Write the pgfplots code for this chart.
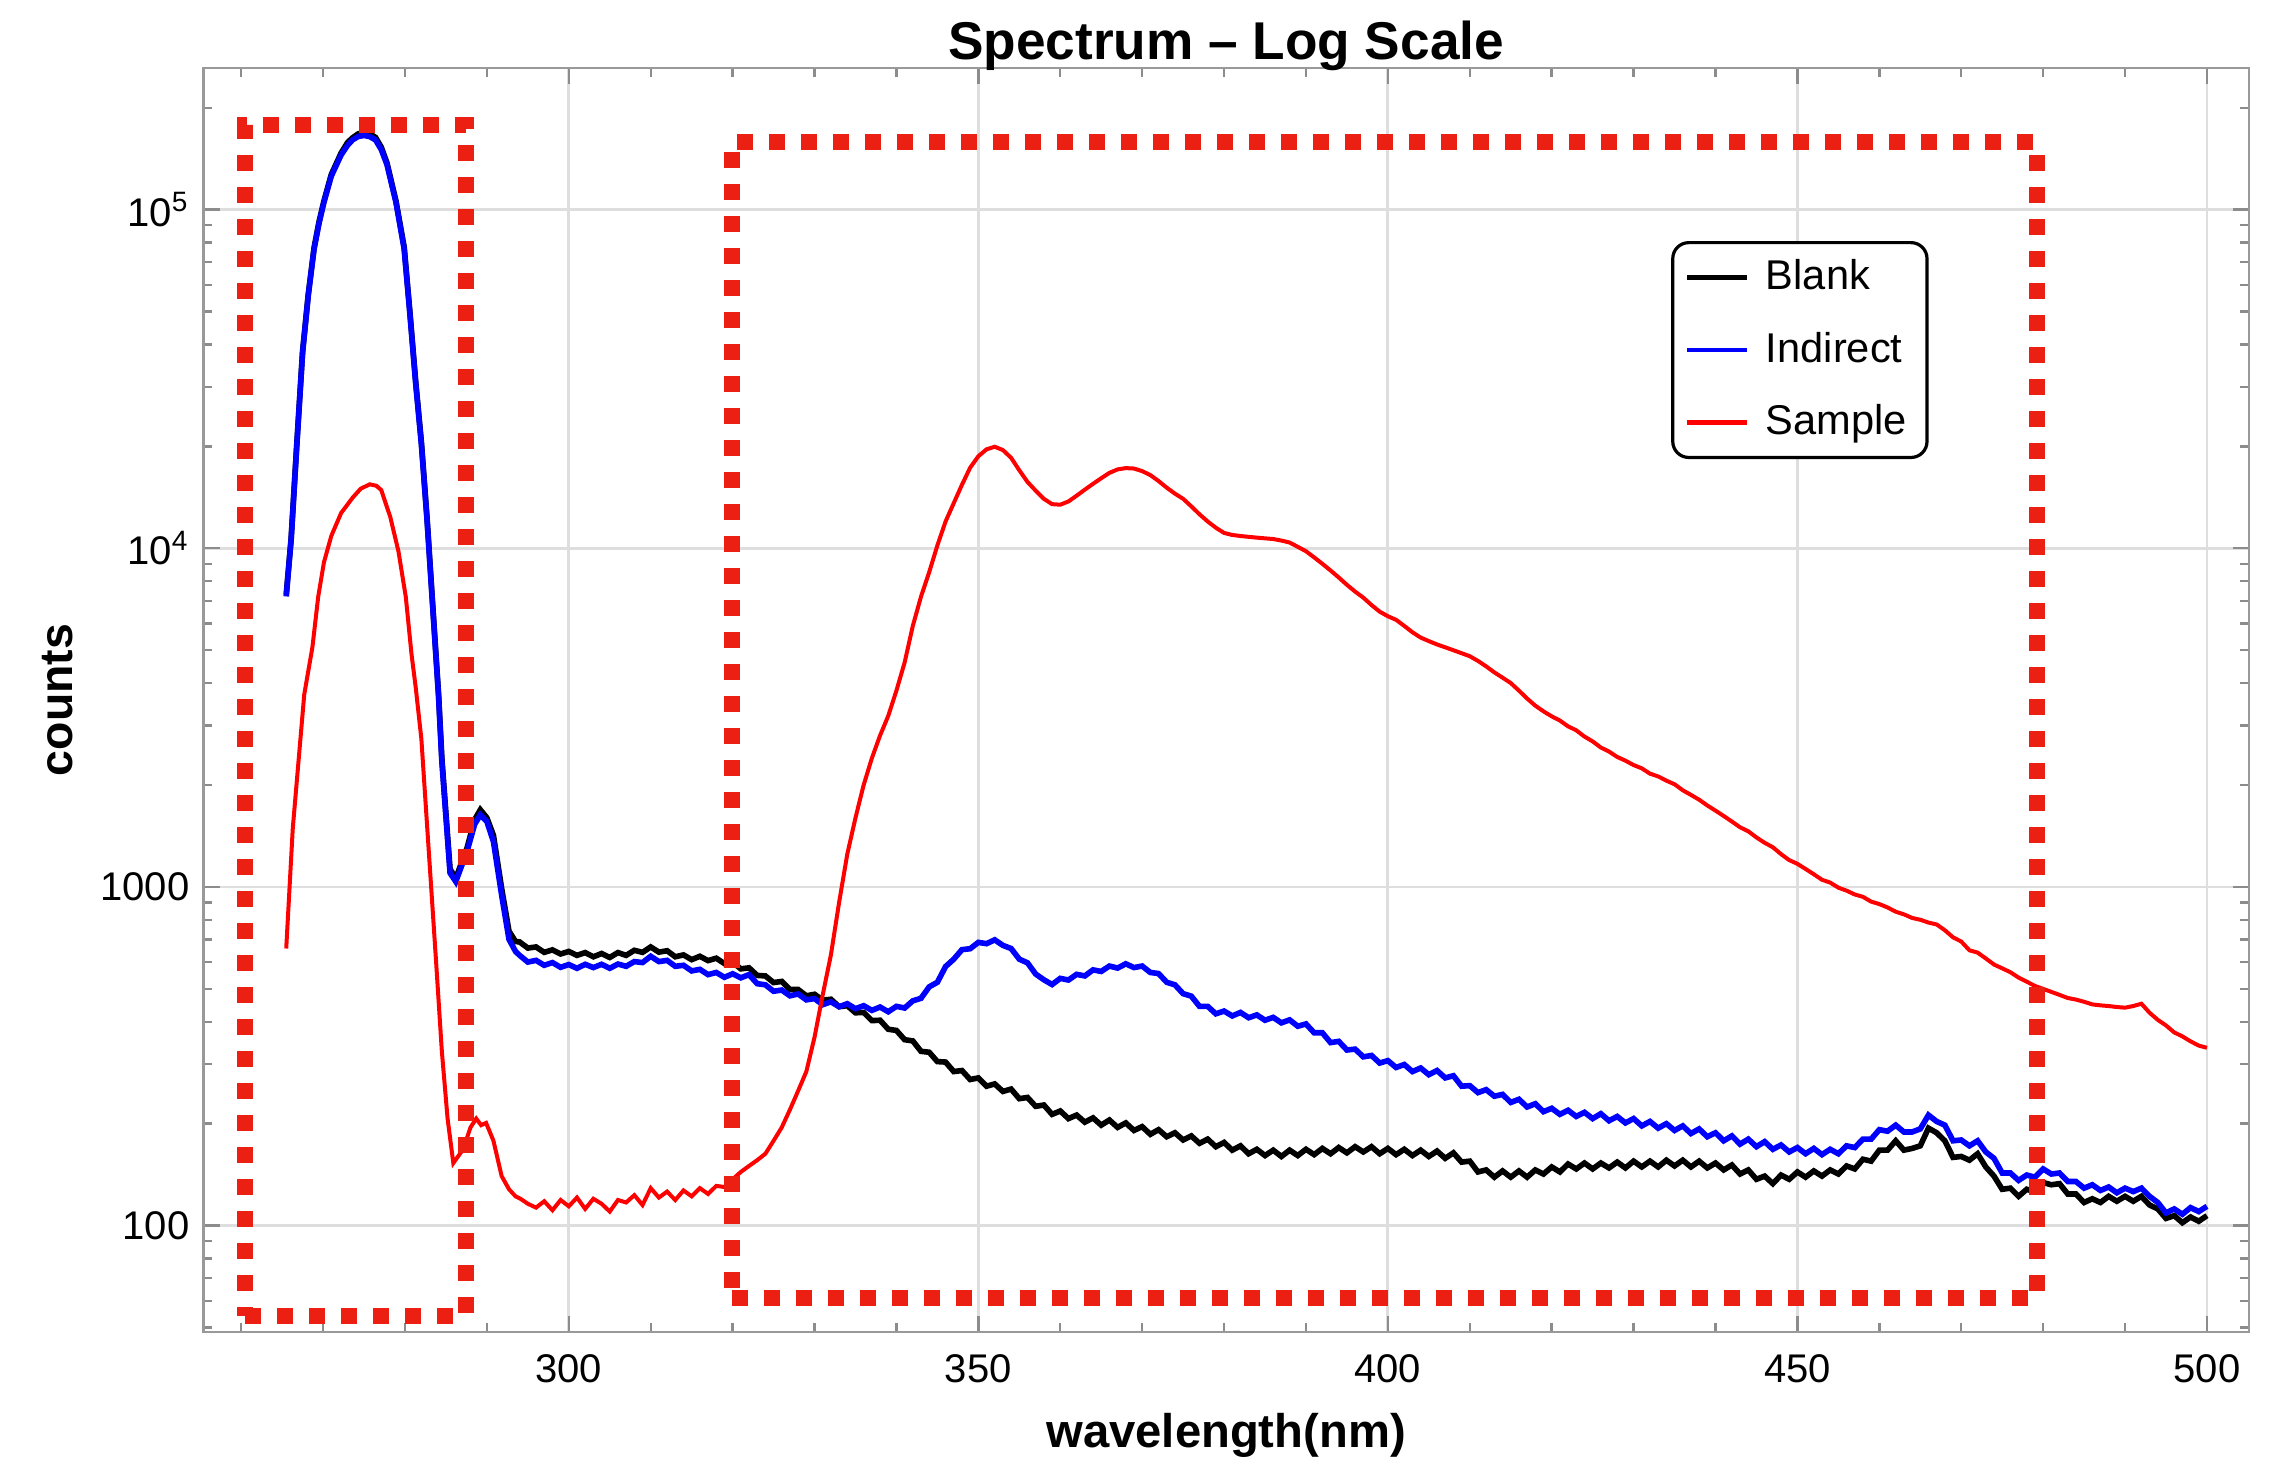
\documentclass[border=0pt]{standalone}
\usepackage{fontspec}
\setmainfont{Liberation Sans}
\usepackage{pgfplots}
\pgfplotsset{compat=1.18}
\definecolor{boxred}{RGB}{236,32,18}
\begin{document}
\begin{tikzpicture}
\useasboundingbox (-50.875pt,-32.25pt) rectangle (521.375pt,333pt);
\begin{axis}[
  at={(0,0)}, anchor=south west,
  scale only axis, width=511.3pt, height=316pt,
  xmin=255.4, xmax=505.1,
  ymode=log, ymin=48.5, ymax=262000,
  /pgf/number format/assume math mode=true,
  axis line style={draw=black!40, line width=0.6pt},
  tick style={draw=black!45, line width=0.6pt},
  major tick length=4pt, minor tick length=2.2pt,
  tick align=inside,
  xtick={300,350,400,450,500},
  minor xtick={260,270,280,290,300,310,320,330,340,350,360,370,380,390,400,410,420,430,440,450,460,470,480,490,500},
  ytick={100,1000,10000,100000},
  yticklabels={100,1000,10\textsuperscript{4},10\textsuperscript{5}},
  minor ytick={50,60,70,80,90,200,300,400,500,600,700,800,900,2000,3000,4000,5000,6000,7000,8000,9000,20000,30000,40000,50000,60000,70000,80000,90000,200000},
  grid=major,
  major grid style={draw=black!13, line width=0.7pt},
  ticklabel style={font=\fontsize{10}{12}\selectfont, text=black},
  xticklabel style={yshift=-2pt},
  every axis title shift=0pt,
  title={Spectrum – Log Scale},
  title style={font=\bfseries\fontsize{13.3}{15}\selectfont, at={(axis description cs:0.5,1.0173)}, anchor=center, yshift=0pt},
  xlabel={wavelength(nm)},
  xlabel style={font=\bfseries\fontsize{11.8}{14}\selectfont, at={(axis description cs:0.5,-0.0815)}, anchor=center},
  ylabel={counts},
  ylabel style={font=\bfseries\fontsize{11.6}{14}\selectfont, at={(axis description cs:-0.0712,0.5)}, anchor=center, rotate=0},
  legend style={at={(0.7176,0.8631)}, anchor=north west, draw=black, line width=0.8pt,
    rounded corners=4pt, font=\fontsize{10.4}{12}\selectfont, row sep=5.1pt,
    inner xsep=3pt, inner ysep=2.2pt, cells={anchor=west}},
  legend cell align=left,
  legend image code/.code={\draw[#1, line width=1.2pt, sharp corners] (0pt,0pt) -- (15pt,0pt); \path (17pt,0pt);},
]
% Blank
\addplot[black, line width=1.4pt] coordinates {
(265.5,7300) (266.1,10700) (266.8,20500) (267.5,38200) (268.2,56500) (268.9,77200) (269.5,92000) (270.1,106000) (271.0,127000) (272.2,147000) (273.0,158000) (273.6,163000) (274.3,167500) (275.0,169000) (275.7,167500) (276.4,163500) (277.1,153000) (277.8,137500) (278.9,106000) (279.9,77500) (280.6,49800) (281.3,31200) (282.0,20600) (282.7,12200) (283.4,6700) (284.1,3700) (284.5,2400) (285.5,1130) (286.2,1060) (287.6,1310) (288.5,1580) (289.2,1690) (290.0,1600) (290.8,1420) (291.8,990) (292.7,740) (293.5,690)
(294,688) (295,660) (296,665) (297,641) (298,652) (299,634) (300,645) (301,628) (302,640) (303,622) (304,636) (305,619) (306,640) (307,628) (308,650) (309,641) (310,665) (311,642) (312,648) (313,622) (314,630) (315,610) (316,624) (317,606) (318,616) (319,594) (320,600) (321,573) (322,577) (323,548) (324,546) (325,522) (326,526) (327,498) (328,498) (329,477) (330,482) (331,463) (332,466) (333,443) (334,446) (335,425) (336,426) (337,403) (338,404) (339,380) (340,377) (341,354) (342,351) (343,327) (344,325) (345,305) (346,304) (347,285) (348,287) (349,270) (350,273) (351,258) (352,262) (353,249) (354,253) (355,237) (356,239) (357,225) (358,227) (359,213) (360,218) (361,207) (362,212) (363,202) (364,208) (365,198) (366,205) (367,195) (368,201) (369,191) (370,196) (371,186) (372,192) (373,183) (374,188) (375,179) (376,184) (377,175) (378,180) (379,171) (380,176) (381,167) (382,172) (383,163) (384,168) (385,161) (386,167) (387,160) (388,167) (389,161) (390,168) (391,162) (392,169) (393,163) (394,170) (395,164) (396,171) (397,165) (398,171) (399,163) (400,169) (401,162) (402,168) (403,161) (404,167) (405,160) (406,166) (407,158) (408,164) (409,154) (410,155) (411,144) (412,146) (413,139) (414,145) (415,139) (416,145) (417,139) (418,146) (419,142) (420,149) (421,144) (422,152) (423,147) (424,153) (425,147) (426,153) (427,148) (428,154) (429,148) (430,155) (431,149) (432,155) (433,149) (434,156) (435,150) (436,156) (437,149) (438,155) (439,148) (440,153) (441,146) (442,151) (443,142) (444,146) (445,137) (446,140) (447,133) (448,141) (449,137) (450,144) (451,139) (452,145) (453,140) (454,146) (455,142) (456,150) (457,147) (458,157) (459,155) (460,167) (461,167) (462,178) (463,167) (464,169) (465,172) (466,194) (467,188) (468,178) (469,159) (470,160) (471,156) (472,163) (473,149) (474,140) (475,128) (476,129) (477,122) (478,128) (479,126) (480,134) (481,132) (482,133) (483,124) (484,124) (485,117) (486,120) (487,117) (488,122) (489,118) (490,122) (491,118) (492,122) (493,115) (494,112) (495,105) (496,107) (497,102) (498,106) (499,103) (500,107)
};
\addlegendentry{Blank}
% Indirect
\addplot[blue, line width=1.4pt] coordinates {
(265.5,7210) (266.1,10600) (266.8,20300) (267.5,37900) (268.2,56000) (268.9,76500) (269.5,91000) (270.1,105000) (271.0,125600) (272.2,145000) (273.0,155000) (273.6,160700) (274.3,164500) (275.0,165600) (275.7,164300) (276.4,160700) (277.1,150500) (277.8,135800) (278.9,105000) (279.9,76500) (280.6,49200) (281.3,30800) (282.0,20300) (282.7,12060) (283.4,6630) (284.1,3650) (284.5,2350) (285.5,1100) (286.2,1037) (287.6,1280) (288.5,1530) (289.2,1633) (290.0,1560) (290.8,1360) (291.8,946) (292.7,700) (293.5,645)
(294,628) (295,600) (296,607) (297,587) (298,598) (299,579) (300,590) (301,575) (302,591) (303,578) (304,591) (305,575) (306,592) (307,583) (308,602) (309,598) (310,624) (311,602) (312,607) (313,583) (314,587) (315,565) (316,571) (317,551) (318,559) (319,541) (320,554) (321,539) (322,551) (323,518) (324,514) (325,492) (326,496) (327,477) (328,483) (329,464) (330,468) (331,449) (332,458) (333,443) (334,452) (335,437) (336,446) (337,432) (338,442) (339,428) (340,444) (341,439) (342,461) (343,469) (344,507) (345,523) (346,582) (347,612) (348,653) (349,657) (350,686) (351,680) (352,698) (353,672) (354,658) (355,612) (356,597) (357,553) (358,532) (359,515) (360,537) (361,531) (362,552) (363,546) (364,569) (365,563) (366,584) (367,576) (368,593) (369,578) (370,584) (371,559) (372,555) (373,523) (374,514) (375,484) (376,476) (377,444) (378,444) (379,422) (380,430) (381,416) (382,426) (383,411) (384,419) (385,404) (386,412) (387,397) (388,405) (389,388) (390,394) (391,371) (392,371) (393,347) (394,350) (395,330) (396,332) (397,315) (398,318) (399,302) (400,307) (401,293) (402,299) (403,285) (404,292) (405,279) (406,287) (407,273) (408,277) (409,258) (410,259) (411,247) (412,252) (413,241) (414,244) (415,231) (416,236) (417,224) (418,229) (419,217) (420,222) (421,213) (422,219) (423,210) (424,216) (425,207) (426,214) (427,204) (428,210) (429,201) (430,207) (431,197) (432,203) (433,194) (434,200) (435,191) (436,197) (437,187) (438,193) (439,183) (440,188) (441,178) (442,184) (443,174) (444,180) (445,171) (446,177) (447,168) (448,173) (449,165) (450,170) (451,163) (452,169) (453,162) (454,168) (455,163) (456,172) (457,170) (458,180) (459,180) (460,192) (461,190) (462,198) (463,189) (464,189) (465,193) (466,212) (467,203) (468,198) (469,178) (470,179) (471,172) (472,178) (473,165) (474,158) (475,143) (476,143) (477,136) (478,141) (479,139) (480,147) (481,142) (482,143) (483,135) (484,135) (485,129) (486,132) (487,127) (488,130) (489,125) (490,129) (491,126) (492,129) (493,122) (494,117) (495,109) (496,112) (497,108) (498,113) (499,110) (500,114)
};
\addlegendentry{Indirect}
% Sample
\addplot[red, line width=1pt] coordinates {
(265.5,658) (266.3,1490) (267.0,2350) (267.7,3700) (268.7,5110) (269.4,7180) (270.1,9080) (271.0,10870) (272.2,12710) (273.6,14100) (274.6,15000) (275.7,15450) (276.5,15300) (277.1,14860) (278.2,12380) (279.2,9800) (280.1,7180) (280.8,4860) (281.3,3900) (282.0,2735) (282.9,1280) (283.8,600) (284.5,327) (285.2,207) (285.9,153) (287.1,168) (288.0,195) (288.7,207) (289.3,198) (289.9,201) (290.8,178) (291.8,140) (292.7,128) (293.5,122) (294.1,120) (295,116) (296,113) (297,118) (298,111) (299,119) (300,114) (301,121) (302,112) (303,120) (304,116) (305,110) (306,119) (307,117) (308,123) (309,115) (310,129) (311,121) (312,126) (313,119) (314,127) (315,122) (316,129) (317,124) (318,131) (319,130) (320,137) (321,144) (322,150) (323,156) (324,163) (325,178) (326,195) (327,220) (328,250) (329,285) (330,360) (331,480) (332,630) (333,900) (334,1250) (335,1600) (336,2000) (337,2400) (338,2800) (339,3200) (340,3800) (341,4600) (342,5900) (343,7200) (344,8500) (345,10200) (346,12000) (347,13600) (348,15400) (349,17300) (350,18700) (351,19600) (352,19950) (353,19500) (354,18500) (355,17000) (356,15700) (357,14800) (358,14000) (359,13500) (360,13450) (361,13750) (362,14300) (363,14900) (364,15500) (365,16100) (366,16700) (367,17100) (368,17250) (369,17200) (370,16900) (371,16450) (372,15800) (373,15100) (374,14500) (375,14000) (376,13300) (377,12600) (378,12000) (379,11500) (380,11100) (381,10950) (382,10870) (384,10750) (386,10650) (387,10540) (388,10400) (389,10100) (390,9800) (391,9400) (392,9000) (393,8600) (394,8200) (395,7800) (396,7450) (397,7150) (398,6800) (399,6500) (400,6300) (401,6150) (402,5900) (403,5650) (404,5450) (405,5320) (406,5200) (407,5100) (408,5000) (409,4900) (410,4800) (411,4650) (412,4480) (413,4300) (414,4150) (415,4000) (416,3800) (417,3600) (418,3430) (419,3300) (420,3190) (421,3100) (422,2980) (423,2900) (424,2780) (425,2690) (426,2580) (427,2510) (428,2420) (429,2360) (430,2290) (431,2240) (432,2160) (433,2120) (434,2060) (435,2010) (436,1930) (437,1870) (438,1810) (439,1740) (440,1680) (441,1620) (442,1560) (443,1500) (444,1460) (445,1400) (446,1350) (447,1310) (448,1250) (449,1200) (450,1170) (451,1130) (452,1090) (453,1050) (454,1030) (455,995) (456,975) (457,950) (458,935) (459,905) (460,890) (461,870) (462,845) (463,830) (464,810) (465,800) (466,785) (467,775) (468,745) (469,710) (470,690) (471,650) (472,640) (473,615) (474,590) (475,575) (476,560) (477,540) (478,525) (479,510) (480,500) (481,490) (482,480) (483,470) (484,465) (485,458) (486,450) (487,447) (488,445) (489,442) (490,440) (491,445) (492,452) (493,425) (494,405) (495,390) (496,372) (497,362) (498,350) (499,340) (500,335)
};
\addlegendentry{Sample}
% annotation boxes
\addplot[forget plot, boxred, line width=4pt, dash pattern=on 4pt off 4pt, line cap=butt] coordinates {
(260.5,54.2) (287.5,54.2) (287.5,178300) (260.5,178300) (260.5,54.2)
};
\addplot[forget plot, boxred, line width=4pt, dash pattern=on 4pt off 4pt, line cap=butt] coordinates {
(319.9,61.2) (479.2,61.2) (479.2,158500) (319.9,158500) (319.9,61.2)
};
\end{axis}
\end{tikzpicture}
\end{document}
